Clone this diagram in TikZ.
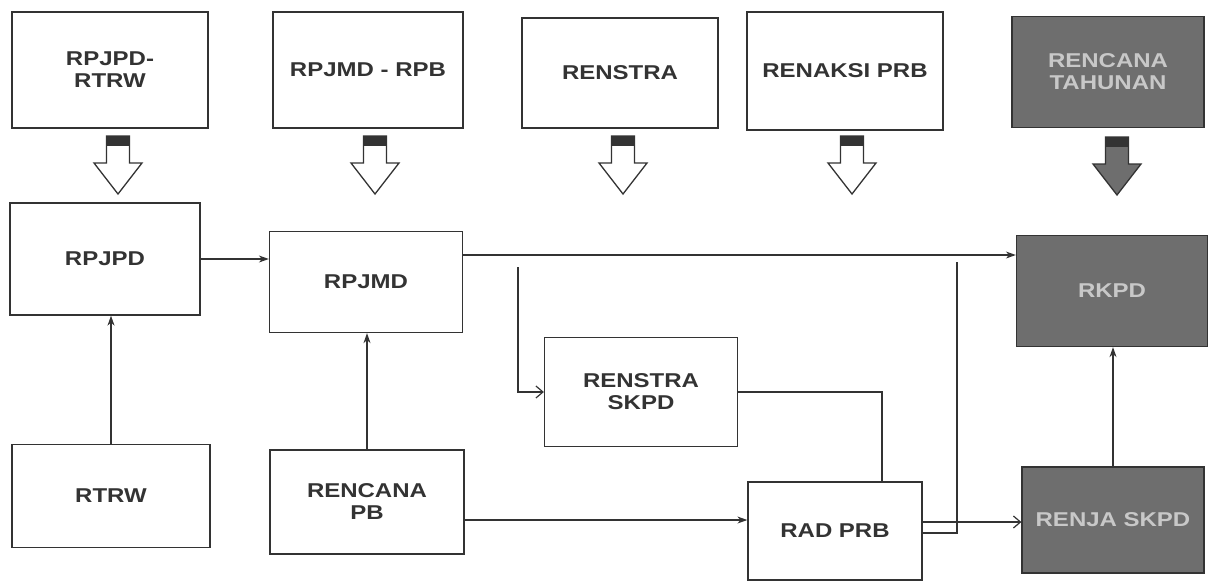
\documentclass[tikz,border=0pt]{standalone}
\usepackage{fontspec}
\setmainfont{Liberation Sans}[FakeStretch=1.2]
\usetikzlibrary{arrows.meta}
\definecolor{ink}{HTML}{333333}
\definecolor{shade}{HTML}{6E6E6E}
\definecolor{paleink}{HTML}{C8C8C8}

\begin{document}
\begin{tikzpicture}[
  x=1pt, y=-1pt,
  every node/.style={font=\bfseries\fontsize{20}{22}\selectfont, text=ink, align=center},
  box/.style={draw=ink, line width=1.3pt, inner sep=0pt},
  darkbox/.style={box, fill=shade, text=paleink},
  link/.style={draw=ink, line width=1.2pt, -{Stealth[length=10pt,width=7pt]}},
  openlink/.style={draw=ink, line width=1.2pt, -{Straight Barb[length=7pt,width=12pt]}},
  plain/.style={draw=ink, line width=1.2pt},
  pics/hollow/.style={code={
    \filldraw[draw=ink, line width=1.3pt, fill=#1] (-11.5,0) -- (11.5,0) -- (11.5,27) -- (24,27) -- (0,58) -- (-24,27) -- (-11.5,27) -- cycle;
    \fill[ink] (-11.5,0) rectangle (11.5,10);
  }}
]
\useasboundingbox (0,0) rectangle (1217,582);

\node[box, minimum width=196, minimum height=116] (rpjpdrtrw) at (110,70) {RPJPD-\\RTRW};
\node[box, minimum width=190, minimum height=116] (rpjmdrpb) at (368,70) {RPJMD - RPB};
\node[box, minimum width=196, minimum height=110] (renstra) at (620,73) {RENSTRA};
\node[box, minimum width=196, minimum height=118] (renaksi) at (845,71) {RENAKSI PRB};
\node[darkbox, minimum width=192, minimum height=111] (tahunan) at (1108,72) {RENCANA\\TAHUNAN};

\pic at (118,136) {hollow=white};
\pic at (375,136) {hollow=white};
\pic at (623,136) {hollow=white};
\pic at (852,136) {hollow=white};
\pic at (1117,137) {hollow=shade};

\node[box, minimum width=190, minimum height=112] (rpjpd) at (105,259) {RPJPD};
\node[box, minimum width=193, minimum height=101] (rpjmd) at (366,282) {RPJMD};
\node[darkbox, minimum width=191, minimum height=111] (rkpd) at (1112,291) {RKPD};
\node[box, minimum width=193, minimum height=109] (renstraskpd) at (641,392) {RENSTRA\\SKPD};
\node[box, minimum width=198, minimum height=103] (rtrw) at (111,496) {RTRW};
\node[box, minimum width=194, minimum height=104] (rencanapb) at (367,502) {RENCANA\\PB};
\node[box, minimum width=174, minimum height=98] (radprb) at (835,531) {RAD PRB};
\node[darkbox, minimum width=182, minimum height=106] (renja) at (1113,520) {RENJA SKPD};

\coordinate (branch) at (518,267);
\coordinate (joint) at (957,262);

\draw[link] (rpjpd.east) -- (rpjpd.east -| rpjmd.west);
\draw[link] ([yshift=27pt]rpjmd.east) -- ([yshift=27pt]rpjmd.east -| rkpd.west);
\draw[openlink] (branch) |- (renstraskpd.west);
\draw[plain] (renstraskpd.east) -| ([xshift=47pt]radprb.north);
\draw[link] (rtrw.north) -- (rtrw.north |- rpjpd.south);
\draw[link] (rencanapb.north) -- (rencanapb.north |- rpjmd.south);
\draw[link] ([yshift=-18pt]rencanapb.east) -- ([yshift=-18pt]rencanapb.east -| radprb.west);
\draw[openlink] ([yshift=9pt]radprb.east) -- ([yshift=9pt]radprb.east -| renja.west);
\draw[plain] ([yshift=-2pt]radprb.east) -| (joint);
\draw[link] (renja.north) -- (renja.north |- rkpd.south);
\end{tikzpicture}
\end{document}
